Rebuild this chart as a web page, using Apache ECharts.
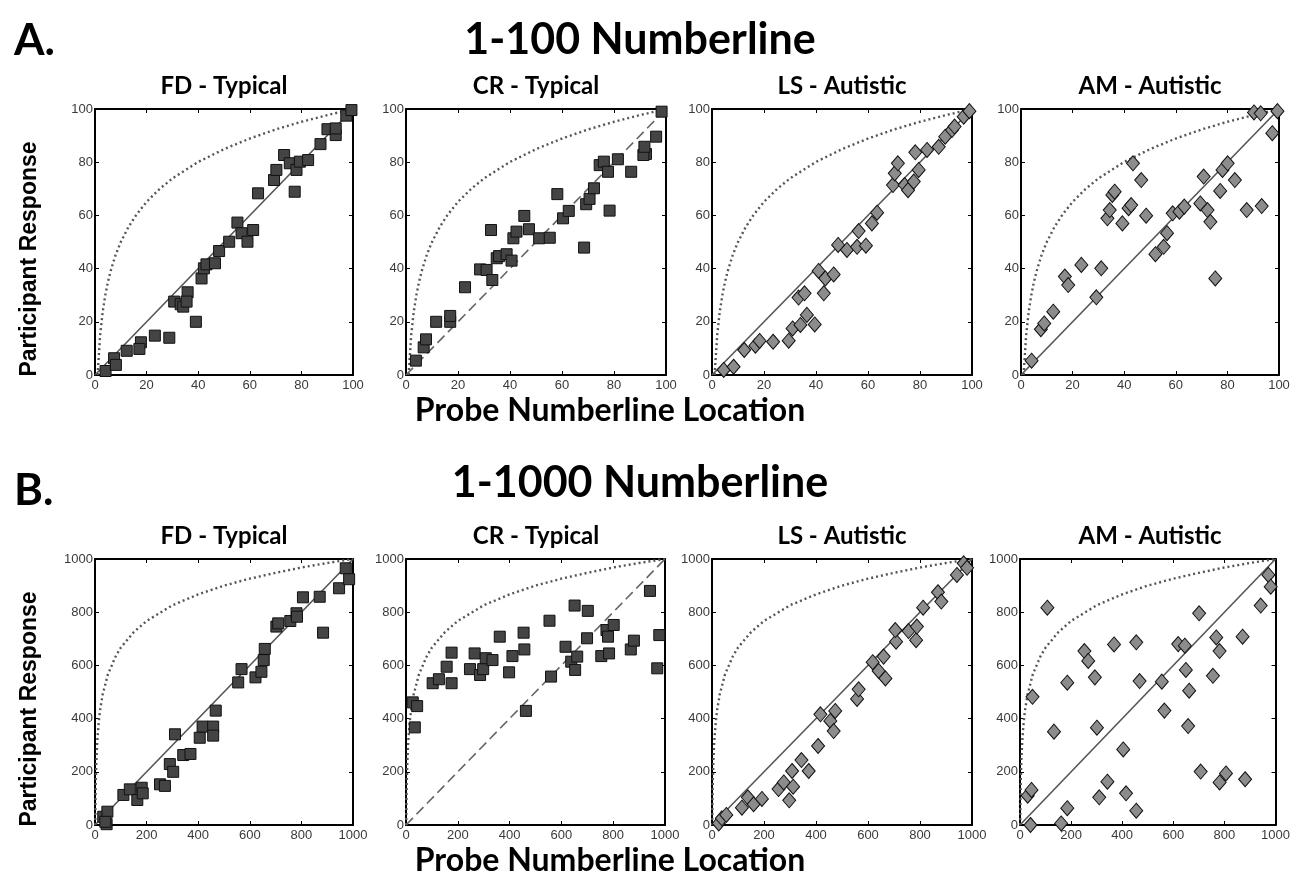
<!DOCTYPE html>
<html><head><meta charset="utf-8">
<script src="https://cdn.jsdelivr.net/npm/echarts@6/dist/echarts.min.js"></script>
<style>html,body{margin:0;padding:0;background:#fff}#c{width:1293px;height:873px}</style>
</head><body><div id="c"></div>
<script>
// ---- panel titles / headings ----
const rowTitles = ['1-100 Numberline', '1-1000 Numberline'];
const rowLetters = ['A.', 'B.'];
const panelTitles = ['FD - Typical', 'CR - Typical', 'LS - Autistic', 'AM - Autistic'];
const yAxisName = 'Participant Response';
const xAxisName = 'Probe Numberline Location';

// ---- reference (logarithmic) curves ----
const logRef100 = [[1,0],[2,15.1],[3,23.9],[4,30.1],[5,34.9],[6,38.9],[8,45.2],[10,50],[13,55.7],[16,60.2],[20,65.1],[25,69.9],[30,73.9],[40,80.1],[50,84.9],[60,88.9],[70,92.3],[80,95.2],[90,97.7],[100,100]];
const logRef1000 = [[1,0],[2,100],[3,159],[5,233],[8,301],[10,333],[15,392],[20,434],[30,492],[50,566],[80,634],[100,667],[150,725],[200,767],[300,826],[400,867],[500,900],[600,926],[700,948],[800,968],[900,985],[1000,1000]];

// ---- 1-100 data ----
const fd100 = [[4.1,1.5],[7.4,6.3],[8.1,3.8],[12.3,9.1],[17.8,12.3],[17.2,9.8],[23.2,14.8],[28.8,14],[30.7,27.6],[33.2,26.6],[34.2,25.7],[35.9,31.1],[35.5,27.6],[39.1,20],[41.3,36.3],[42.2,40.1],[43.2,41.6],[46.5,42],[48.1,46.6],[52,50.1],[55.2,57.3],[56.8,53.3],[59.1,50.1],[61.3,54.5],[63.2,68.3],[69.4,73.3],[70.3,77.1],[73.3,82.7],[75.5,79.6],[77.4,68.9],[78.1,77.1],[79.4,80.2],[82.6,80.8],[87.4,86.8],[90.1,92.4],[93.3,90.2],[93.3,92.7],[97.4,97.5],[99.4,99.6]];
const cr100 = [[3.8,5.4],[6.8,10.4],[7.7,13.4],[11.6,20],[17,20],[17,22.2],[22.7,33],[28.5,39.7],[31,39.5],[32.7,54.5],[33.2,35.7],[34.9,43.9],[35.8,44.7],[38.7,45.4],[40.6,43],[41.3,51.4],[42.5,53.9],[45.5,59.8],[47.3,54.8],[51.2,51.4],[55.3,51.6],[58.2,68],[60.4,58.9],[62.6,61.7],[68.5,47.9],[69.3,64.2],[70.6,66.2],[72.3,70.2],[74.5,78.9],[76.1,80.2],[77.7,76.4],[78.3,61.8],[81.5,81.1],[86.6,76.4],[92.3,83.1],[91.3,82.7],[91.7,85.8],[96.2,89.6],[98.3,99]];
const ls100 = [[4.5,1.9],[8.3,3.1],[12.4,9.4],[16.7,11],[18.3,12.8],[23.5,12.5],[29.5,12.9],[31,17.5],[34,18.8],[36.5,22.6],[39.5,19],[33.3,29.1],[35.6,30.7],[41,39.1],[43,30.7],[43.6,36.3],[46.8,37.8],[48.5,48.9],[51.9,47],[55.8,48.2],[56.4,54.1],[59.2,48.6],[61.5,57],[63.5,61],[69.6,71.4],[70.3,75.8],[71.5,79.6],[74.1,71.4],[75.4,69.5],[77.6,72.7],[79.5,77.1],[78.2,83.7],[82.7,84.6],[87.2,85.8],[89.7,89.6],[92.3,92.1],[93.3,93.4],[96.8,97.1],[99,99.2]];
const am100 = [[4.1,5.4],[7.7,17.2],[9,19.4],[12.5,23.8],[17,37],[18.3,33.8],[23.4,41.4],[29.2,29.2],[31.1,40.1],[33.5,58.9],[34.4,62],[35.4,67.7],[36.3,68.9],[39.3,57],[41.7,62.7],[42.7,63.9],[43.4,79.6],[46.6,73.3],[48.5,59.9],[52.1,45.4],[55.3,48.2],[56.6,53.3],[58.8,60.8],[61.4,61.4],[63.3,63.3],[69.5,64.5],[70.8,74.6],[72.3,62],[73.4,57.6],[75.3,36.3],[77.2,69.2],[78.1,77.1],[80.1,79.6],[82.9,73.3],[87.5,62],[93.3,63.5],[90.3,98.7],[92.9,98.4],[97.4,90.9],[99.4,99.2]];

// ---- 1-1000 data ----
const fd1000 = [[32,31],[48,50],[45,3],[40,12],[110,113],[135,134],[164,94],[181,140],[185,119],[252,153],[271,147],[290,229],[303,200],[310,341],[342,263],[370,267],[406,328],[417,370],[458,370],[458,336],[468,430],[555,536],[568,586],[622,555],[645,576],[654,620],[658,662],[703,746],[710,758],[757,767],[781,796],[783,783],[806,856],[871,858],[884,723],[946,890],[972,965],[985,924]];
const cr1000 = [[26,461],[43,447],[34,367],[103,533],[127,548],[157,595],[176,648],[176,533],[247,586],[265,645],[286,564],[298,586],[308,627],[334,620],[362,708],[398,574],[411,635],[454,723],[457,660],[463,429],[554,768],[560,558],[616,670],[638,614],[651,825],[653,583],[661,633],[702,805],[699,702],[754,635],[774,733],[780,708],[784,645],[802,752],[868,660],[880,693],[942,880],[978,714],[970,589]];
const ls1000 = [[26,6],[38,25],[55,38],[115,65],[138,104],[160,78],[192,98],[256,135],[276,160],[297,93],[308,203],[312,144],[344,244],[372,203],[408,297],[417,416],[455,391],[468,353],[474,429],[558,474],[564,510],[618,612],[641,579],[660,633],[667,551],[708,689],[705,733],[756,729],[785,695],[788,746],[812,817],[869,875],[882,840],[942,940],[968,984],[981,967]];
const am1000 = [[30,110],[45,132],[49,482],[41,0],[107,817],[133,351],[161,6],[185,63],[185,535],[252,654],[267,617],[293,555],[301,366],[310,104],[342,163],[368,679],[404,284],[415,119],[455,687],[455,54],[468,541],[555,539],[565,430],[619,680],[645,674],[649,583],[662,505],[658,372],[701,796],[707,201],[755,561],[768,705],[781,654],[781,160],[806,194],[871,708],[881,172],[942,825],[972,940],[981,896]];

const rowsData = [[fd100, cr100, ls100, am100], [fd1000, cr1000, ls1000, am1000]];
const rowMax = [100, 1000];
const rowInterval = [20, 200];
const rowRef = [logRef100, logRef1000];
const markerKinds = ['square', 'square', 'diamond', 'diamond'];
const diagDashed = [false, true, false, false];

// ---- layout ----
const gridLefts = [[95, 406, 712, 1021], [95, 406, 712, 1020]];
const gridWidths = [[258, 260, 260, 258], [258, 259, 260, 258]];
const gridTops = [109, 559];
const gridH = 266;
const titleCenters = [224, 536, 842, 1150];
const rowTitleY = [40, 483];
const letterY = [41, 491];

const grids = [], xAxes = [], yAxes = [], series = [], graphics = [];
const axisLineStyle = { color: '#000', width: 2 };
for (let r = 0; r < 2; r++) {
  for (let p = 0; p < 4; p++) {
    const g = grids.length;
    grids.push({ left: gridLefts[r][p], top: gridTops[r], width: gridWidths[r][p], height: gridH, containLabel: false });
    const common = { type: 'value', min: 0, max: rowMax[r], interval: rowInterval[r], gridIndex: g,
      splitLine: { show: false }, axisLine: { show: true, onZero: false, lineStyle: axisLineStyle },
      axisTick: { show: true, inside: true, length: 4, lineStyle: { color: '#000', width: 1 } } };
    const lab = { color: '#3a3a3a', fontFamily: 'Liberation Sans', fontSize: 13, formatter: v => String(v) };
    xAxes.push(Object.assign({}, common, { position: 'bottom', axisLabel: Object.assign({ margin: 4 }, lab) }));
    xAxes.push(Object.assign({}, common, { position: 'top', axisLabel: { show: false } }));
    yAxes.push(Object.assign({}, common, { position: 'left', axisLabel: Object.assign({ margin: 2 }, lab) }));
    yAxes.push(Object.assign({}, common, { position: 'right', axisLabel: { show: false } }));
    const xi = g * 2, yi = g * 2;
    series.push({ type: 'line', xAxisIndex: xi, yAxisIndex: yi, data: rowRef[r], showSymbol: false, symbol: 'none',
      lineStyle: { color: '#555', width: 2.4, type: [2, 3] }, z: 1, silent: true });
    series.push({ type: 'line', xAxisIndex: xi, yAxisIndex: yi, data: [[0, 0], [rowMax[r], rowMax[r]]], showSymbol: false, symbol: 'none',
      lineStyle: { color: diagDashed[p] ? '#666' : '#555', width: 1.6, type: diagDashed[p] ? [10, 5] : 'solid' }, z: 2, silent: true });
    const sq = markerKinds[p] === 'square';
    series.push({ type: 'scatter', xAxisIndex: xi, yAxisIndex: yi, data: rowsData[r][p], clip: false,
      symbol: sq ? 'rect' : 'diamond', symbolSize: sq ? 11 : [13, 15],
      itemStyle: { color: sq ? '#444444' : '#8c8c8c', borderColor: '#111', borderWidth: 1, opacity: 1 }, z: 3 });
    graphics.push({ type: 'text', x: titleCenters[p], y: gridTops[r] - 23,
      style: { text: panelTitles[p], font: 'bold 24px Lato', align: 'center', verticalAlign: 'middle', fill: '#000' } });
  }
  const top = gridTops[r];
  graphics.push({ type: 'text', x: 640, y: rowTitleY[r], style: { text: rowTitles[r], font: 'bold 43px Lato', align: 'center', verticalAlign: 'middle', fill: '#000' } });
  graphics.push({ type: 'text', x: 14, y: letterY[r], style: { text: rowLetters[r], font: 'bold 44px Lato', align: 'left', verticalAlign: 'middle', fill: '#000' } });
  graphics.push({ type: 'text', x: 30, y: top + 150, rotation: Math.PI / 2,
    style: { text: yAxisName, font: 'bold 23px Liberation Sans', align: 'center', verticalAlign: 'middle', fill: '#000' } });
  graphics.push({ type: 'text', x: 610, y: top + 302, style: { text: xAxisName, font: 'bold 32px Lato', align: 'center', verticalAlign: 'middle', fill: '#000' } });
}

const chart = echarts.init(document.getElementById('c'), null, { renderer: 'canvas' });
chart.setOption({ animation: false, backgroundColor: '#fff', grid: grids, xAxis: xAxes, yAxis: yAxes, series: series, graphic: graphics });
</script></body></html>
